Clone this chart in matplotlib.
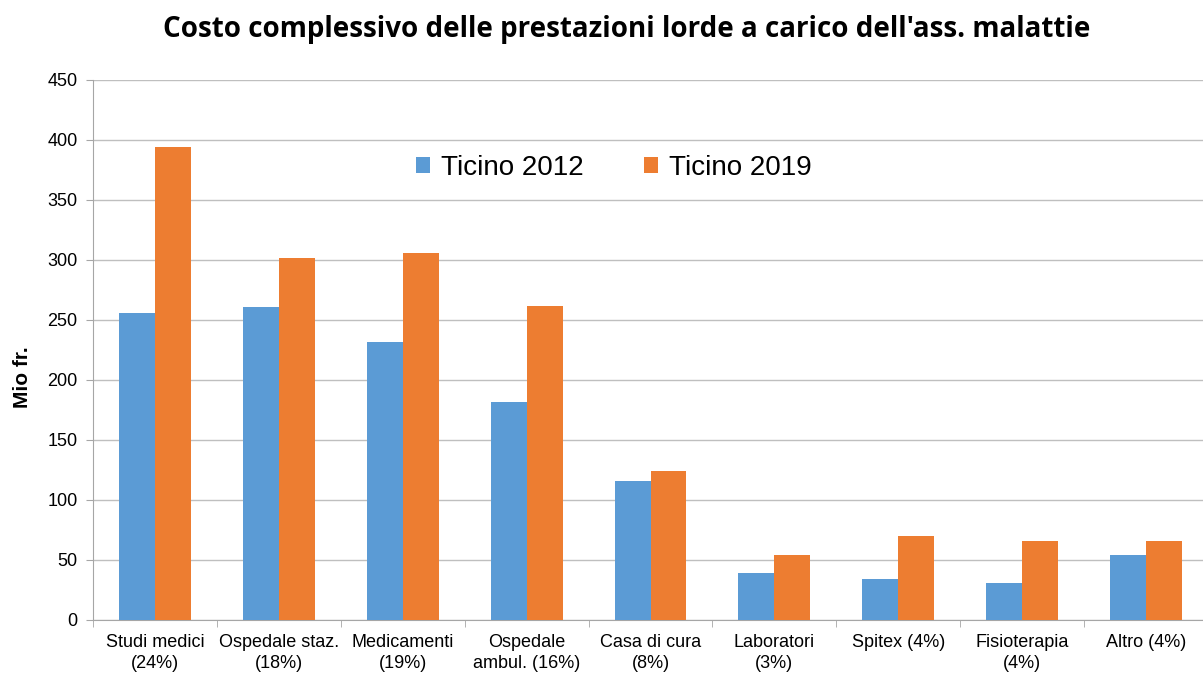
import matplotlib
matplotlib.use("Agg")
import matplotlib.pyplot as plt
import numpy as np

categories = ["Studi medici\n(24%)", "Ospedale staz.\n(18%)", "Medicamenti\n(19%)",
              "Ospedale\nambul. (16%)", "Casa di cura\n(8%)", "Laboratori\n(3%)",
              "Spitex (4%)", "Fisioterapia\n(4%)", "Altro (4%)"]
ticino_2012 = [256, 261, 232, 182, 116, 39, 34, 31, 54]
ticino_2019 = [394, 302, 306, 262, 124, 54, 70, 66, 66]
series_labels = ["Ticino 2012", "Ticino 2019"]
yticks = [0, 50, 100, 150, 200, 250, 300, 350, 400, 450]

fig = plt.figure(figsize=(12.03, 6.81), dpi=100)
ax = fig.add_axes([93/1203, 1-620/681, (1208-93)/1203, (620-80)/681])

x = np.arange(len(categories))
w = 0.29
ax.bar(x - w/2, ticino_2012, w, color="#5B9BD5", label=series_labels[0], zorder=3)
ax.bar(x + w/2, ticino_2019, w, color="#ED7D31", label=series_labels[1], zorder=3)

ax.set_xlim(-0.5, len(categories) - 0.5)
ax.set_ylim(0, 450)
ax.set_yticks(yticks)
ax.yaxis.grid(True, color="#BFBFBF", linewidth=1, zorder=0)
ax.set_axisbelow(True)
for s in ["top", "right"]:
    ax.spines[s].set_visible(False)
ax.spines["left"].set_color("#A6A6A6")
ax.spines["bottom"].set_color("#A6A6A6")
ax.tick_params(axis="y", length=5, color="#A6A6A6", labelsize=13, pad=6)
ax.set_xticks(x)
ax.set_xticklabels(categories, fontsize=13, family="Liberation Sans", linespacing=1.35)
ax.tick_params(axis="x", length=0, pad=10)
ax.set_xticks(np.arange(len(categories) + 1) - 0.5, minor=True)
ax.tick_params(axis="x", which="minor", length=5, color="#A6A6A6")
for lab in ax.get_yticklabels():
    lab.set_family("Liberation Sans")

ax.set_ylabel("Mio fr.", fontsize=15, fontweight="bold", family="Liberation Sans")
ax.yaxis.set_label_coords((32 - 93) / 1115, (620 - 377) / 540)

leg = ax.legend(loc="center", bbox_to_anchor=(614/1203, 1-168/681), bbox_transform=fig.transFigure,
                ncol=2, frameon=False, prop={"family": "Liberation Sans", "size": 20},
                handlelength=0.5, handleheight=0.5, handletextpad=0.4, columnspacing=2.2)

fig.text(627/1203, 1-30/681, "Costo complessivo delle prestazioni lorde a carico dell'ass. malattie",
         ha="center", va="center", fontsize=20, fontweight="bold", family="Open Sans")

fig.savefig("out.png", dpi=100)
